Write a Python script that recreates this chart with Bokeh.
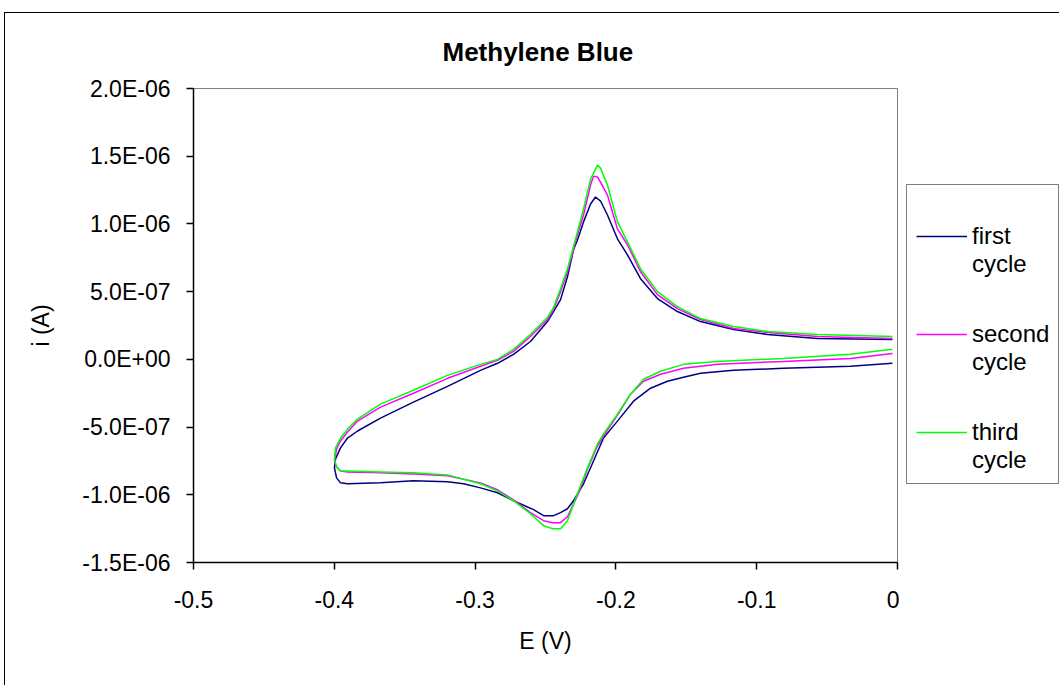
from bokeh.plotting import figure
from bokeh.layouts import row
from bokeh.models import FixedTicker, Legend, LegendItem, Title, Range1d
from bokeh.embed import file_html
from bokeh.resources import INLINE

# Cyclic voltammograms of methylene blue: potential E (V) and current i (uA).
# Each trace runs from 0 V along the lower branch to -0.4 V and back along the upper branch.

# first cycle
e_first = [-0.0036, -0.0334, -0.0810, -0.1165, -0.1399, -0.1520, -0.1634, -0.1754, -0.1875, -0.1989,
           -0.2088, -0.2159, -0.2230, -0.2301, -0.2344, -0.2393, -0.2443, -0.2514, -0.2585, -0.2727,
           -0.2841, -0.2962, -0.3082, -0.3196, -0.3438, -0.3672, -0.3906, -0.3956, -0.3984, -0.3999,
           -0.3991, -0.3956, -0.3906, -0.3835, -0.3672, -0.3438, -0.3196, -0.2962, -0.2841, -0.2727,
           -0.2607, -0.2486, -0.2443, -0.2393, -0.2344, -0.2301, -0.2273, -0.2230, -0.2180, -0.2145,
           -0.2109, -0.2060, -0.1989, -0.1918, -0.1825, -0.1705, -0.1563, -0.1399, -0.1165, -0.0923,
           -0.0568, -0.0036]
i_first = [-0.029, -0.051, -0.066, -0.081, -0.103, -0.132, -0.162, -0.213, -0.309, -0.456,
           -0.581, -0.750, -0.919, -1.044, -1.103, -1.132, -1.154, -1.154, -1.110, -1.044,
           -0.985, -0.949, -0.919, -0.904, -0.897, -0.912, -0.919, -0.912, -0.875, -0.801,
           -0.735, -0.654, -0.581, -0.529, -0.434, -0.316, -0.199, -0.081, -0.029, 0.037,
           0.132, 0.279, 0.353, 0.441, 0.610, 0.809, 0.882, 1.015, 1.147, 1.199,
           1.169, 1.066, 0.890, 0.772, 0.596, 0.449, 0.353, 0.279, 0.221, 0.184,
           0.154, 0.147]

# second cycle
e_second = [-0.0036, -0.0334, -0.0810, -0.1278, -0.1520, -0.1683, -0.1804, -0.1896, -0.1989, -0.2088,
            -0.2131, -0.2202, -0.2273, -0.2344, -0.2393, -0.2450, -0.2514, -0.2607, -0.2727, -0.2841,
            -0.2962, -0.3196, -0.3438, -0.3672, -0.3906, -0.3956, -0.3984, -0.3999,
            -0.3984, -0.3956, -0.3906, -0.3835, -0.3672, -0.3438, -0.3196, -0.2962, -0.2841, -0.2727,
            -0.2607, -0.2486, -0.2443, -0.2393, -0.2344, -0.2273, -0.2230, -0.2180, -0.2159, -0.2131,
            -0.2109, -0.2060, -0.1989, -0.1918, -0.1825, -0.1705, -0.1563, -0.1399, -0.1165, -0.0923,
            -0.0568, -0.0036]
i_second = [0.044, 0.007, -0.015, -0.037, -0.066, -0.110, -0.162, -0.257, -0.412, -0.566,
            -0.640, -0.809, -1.007, -1.162, -1.206, -1.206, -1.191, -1.132, -1.037, -0.963,
            -0.912, -0.860, -0.846, -0.838, -0.831, -0.824, -0.794, -0.750,
            -0.662, -0.603, -0.537, -0.456, -0.353, -0.250, -0.140, -0.051, -0.007, 0.059,
            0.169, 0.294, 0.368, 0.500, 0.647, 0.919, 1.066, 1.287, 1.353, 1.346,
            1.309, 1.213, 0.963, 0.846, 0.647, 0.478, 0.375, 0.294, 0.228, 0.199,
            0.169, 0.154]

# third cycle
e_third = [-0.0036, -0.0334, -0.0810, -0.1278, -0.1520, -0.1683, -0.1804, -0.1896, -0.1989, -0.2088,
           -0.2131, -0.2202, -0.2273, -0.2344, -0.2393, -0.2450, -0.2514, -0.2607, -0.2727, -0.2841,
           -0.2962, -0.3196, -0.3438, -0.3672, -0.3906, -0.3956, -0.3984, -0.3999,
           -0.3991, -0.3956, -0.3906, -0.3835, -0.3672, -0.3438, -0.3196, -0.2962, -0.2841, -0.2727,
           -0.2607, -0.2486, -0.2443, -0.2393, -0.2344, -0.2273, -0.2230, -0.2180, -0.2131, -0.2109,
           -0.2060, -0.1989, -0.1918, -0.1825, -0.1705, -0.1563, -0.1399, -0.1165, -0.0923, -0.0568,
           -0.0036]
i_third = [0.074, 0.037, 0.007, -0.015, -0.037, -0.088, -0.147, -0.257, -0.404, -0.551,
           -0.625, -0.801, -0.993, -1.191, -1.250, -1.250, -1.228, -1.140, -1.044, -0.971,
           -0.919, -0.853, -0.838, -0.831, -0.824, -0.824, -0.794, -0.735,
           -0.654, -0.581, -0.515, -0.441, -0.331, -0.228, -0.118, -0.037, 0.000, 0.074,
           0.184, 0.309, 0.382, 0.522, 0.669, 0.941, 1.110, 1.331, 1.434, 1.412,
           1.287, 1.015, 0.868, 0.669, 0.500, 0.390, 0.301, 0.243, 0.206, 0.184,
           0.169]

# legend text: the empty first line keeps each key line beside the word above "cycle"
cycle_labels = ["\nfirst\ncycle", "\nsecond\ncycle", "\nthird\ncycle"]
cycle_colors = ["#000080", "#FF00FF", "#00FF00"]

x_ticks = [-0.5, -0.4, -0.3, -0.2, -0.1, 0.0]
x_tick_labels = ["-0.5", "-0.4", "-0.3", "-0.2", "-0.1", "0"]
y_ticks = [-1.5e-6, -1.0e-6, -5.0e-7, 0.0, 5.0e-7, 1.0e-6, 1.5e-6, 2.0e-6]
y_tick_labels = ["-1.5E-06", "-1.0E-06", "-5.0E-07", "0.0E+00", "5.0E-07", "1.0E-06", "1.5E-06", "2.0E-06"]

FONT = "Liberation Sans"
HEIGHT = 672

p = figure(width=894, height=HEIGHT, x_range=(-0.5, 0.0), y_range=(-1.5e-6, 2.0e-6),
           output_backend="svg", toolbar_location=None,
           min_border_left=188, min_border_right=2, min_border_top=73, min_border_bottom=123,
           background_fill_color="white", border_fill_color="white")
p.grid.visible = False
p.outline_line_color = "#808080"
p.outline_line_width = 1

p.title = Title(text="Methylene Blue", align="left", offset=249, standoff=43,
                text_font=FONT, text_font_size="26px", text_font_style="bold", text_color="black")

for ax in (p.xaxis[0], p.yaxis[0]):
    ax.axis_line_color = "black"
    ax.axis_line_width = 1.5
    ax.major_tick_line_color = "black"
    ax.major_tick_line_width = 1.5
    ax.major_tick_out = 7
    ax.major_tick_in = 0
    ax.minor_tick_line_color = None
    ax.major_label_text_font = FONT
    ax.major_label_text_font_size = "23px"
    ax.major_label_text_color = "black"
    ax.axis_label_text_font = FONT
    ax.axis_label_text_font_size = "23px"
    ax.axis_label_text_font_style = "normal"
    ax.axis_label_text_color = "black"

p.xaxis.ticker = FixedTicker(ticks=x_ticks)
p.xaxis.major_label_overrides = dict(zip(x_ticks, x_tick_labels))
p.xaxis.axis_label = "E (V)"
p.xaxis.major_label_standoff = 21
p.xaxis.axis_label_standoff = 17

p.yaxis.ticker = FixedTicker(ticks=y_ticks)
p.yaxis.major_label_overrides = dict(zip(y_ticks, y_tick_labels))
p.yaxis.axis_label = "i (A)"
p.yaxis.major_label_standoff = 16
p.yaxis.axis_label_standoff = 25

series = [(e_first, i_first), (e_second, i_second), (e_third, i_third)]
for (e_vals, i_vals), color in zip(series, cycle_colors):
    amps = [v * 1e-6 for v in i_vals]
    p.line(e_vals, amps, line_color=color, line_width=1.5)

# legend panel to the right of the plot area; its key renderers carry no drawable points
key = figure(width=160, height=HEIGHT, x_axis_type=None, y_axis_type=None,
             x_range=Range1d(0, 1), y_range=Range1d(0, 1),
             output_backend="svg", toolbar_location=None, min_border=0,
             outline_line_color=None, background_fill_color="white", border_fill_color="white")
key.grid.visible = False
nan = float("nan")
items = []
for label, color in zip(cycle_labels, cycle_colors):
    r = key.line(x=[nan], y=[nan], line_color=color, line_width=1.5)
    items.append(LegendItem(label=label, renderers=[r]))

legend = Legend(items=items, location=(7, 78),
                border_line_color="black", border_line_width=1,
                background_fill_color="white", background_fill_alpha=1,
                padding=9, spacing=14, margin=0,
                glyph_width=51, glyph_height=30, label_standoff=5,
                label_text_font=FONT, label_text_font_size="24px",
                label_text_color="black")
key.add_layout(legend, "center")

# chart area with its frame line on the left and top edges
chart = row(p, key, styles={"margin-left": "4px", "margin-top": "12px",
                            "border-left": "1px solid black", "border-top": "1px solid black"})

open("out.html", "w").write(file_html(chart, INLINE))
